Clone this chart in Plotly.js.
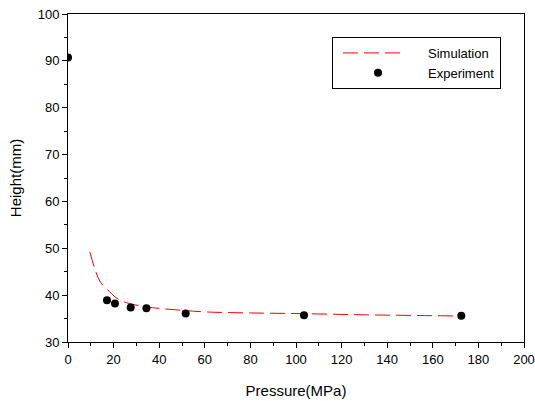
<!DOCTYPE html>
<html><head><meta charset="utf-8">
<script src="https://cdn.plot.ly/plotly-3.0.1.min.js"></script>
<style>html,body{margin:0;padding:0;background:#fff}#c{width:535px;height:401px}</style>
</head><body><div id="c"></div>
<script>
const simPressure = [9.6, 11.7, 14.2, 18.3, 21.2, 25.6, 34.4, 49, 61.3, 80, 103, 130, 172.5];
const simHeight   = [49.2, 45.7, 42.8, 40.7, 39.4, 38.4, 37.5, 36.8, 36.4, 36.2, 36.05, 35.8, 35.55];
const expPressure = [0, 17.1, 20.6, 27.5, 34.4, 51.6, 103.5, 172.5];
const expHeight   = [90.7, 38.9, 38.2, 37.35, 37.2, 36.1, 35.7, 35.6];
const xTicks = [0, 20, 40, 60, 80, 100, 120, 140, 160, 180, 200];
const yTicks = [30, 40, 50, 60, 70, 80, 90, 100];

const font = {family: 'Liberation Sans, Arial, sans-serif', color: '#000'};
const data = [
  {x: simPressure, y: simHeight, mode: 'lines', name: 'Simulation', line: {color: '#ff0000', width: 1, dash: '15px,6px', shape: 'spline'}},
  {x: expPressure, y: expHeight, mode: 'markers', name: 'Experiment', marker: {color: '#000', size: 8}}
];
const axisCommon = {
  showgrid: false, zeroline: false, showline: true, linecolor: '#000', linewidth: 1,
  mirror: true, ticks: 'outside', ticklen: 5, tickwidth: 1, tickcolor: '#000',
  tickfont: Object.assign({size: 13}, font)
};
const layout = {
  width: 535, height: 401,
  margin: {l: 68, r: 11, t: 14, b: 59},
  paper_bgcolor: '#fff', plot_bgcolor: '#fff',
  showlegend: true,
  legend: {x: 0.579, y: 0.93, xanchor: 'left', yanchor: 'top', bgcolor: '#fff', bordercolor: '#000', borderwidth: 1,
    font: Object.assign({size: 13}, font), itemwidth: 85, tracegroupgap: 0},
  xaxis: Object.assign({}, axisCommon, {range: [0, 200], tickvals: xTicks, ticktext: xTicks.map(String),
    minor: {dtick: 10, ticks: 'outside', ticklen: 3, tickcolor: '#000'},
    title: {text: 'Pressure(MPa)', font: Object.assign({size: 15}, font), standoff: 19}}),
  yaxis: Object.assign({}, axisCommon, {range: [30, 100], tickvals: yTicks, ticktext: yTicks.map(String),
    minor: {dtick: 5, ticks: 'outside', ticklen: 3, tickcolor: '#000'},
    title: {text: 'Height(mm)', font: Object.assign({size: 15}, font), standoff: 12}})
};
Plotly.newPlot('c', data, layout, {displayModeBar: false, staticPlot: true}).then(function (gd) {
  // lengthen the legend line sample and centre the marker sample like the original legend
  gd.querySelectorAll('.legend .legendlines path').forEach(function (p) { p.setAttribute('d', 'M10,0h63'); });
  gd.querySelectorAll('.legend .legendpoints path.scatterpts').forEach(function (p) { p.setAttribute('transform', 'translate(45,0)'); });
});
</script></body></html>
